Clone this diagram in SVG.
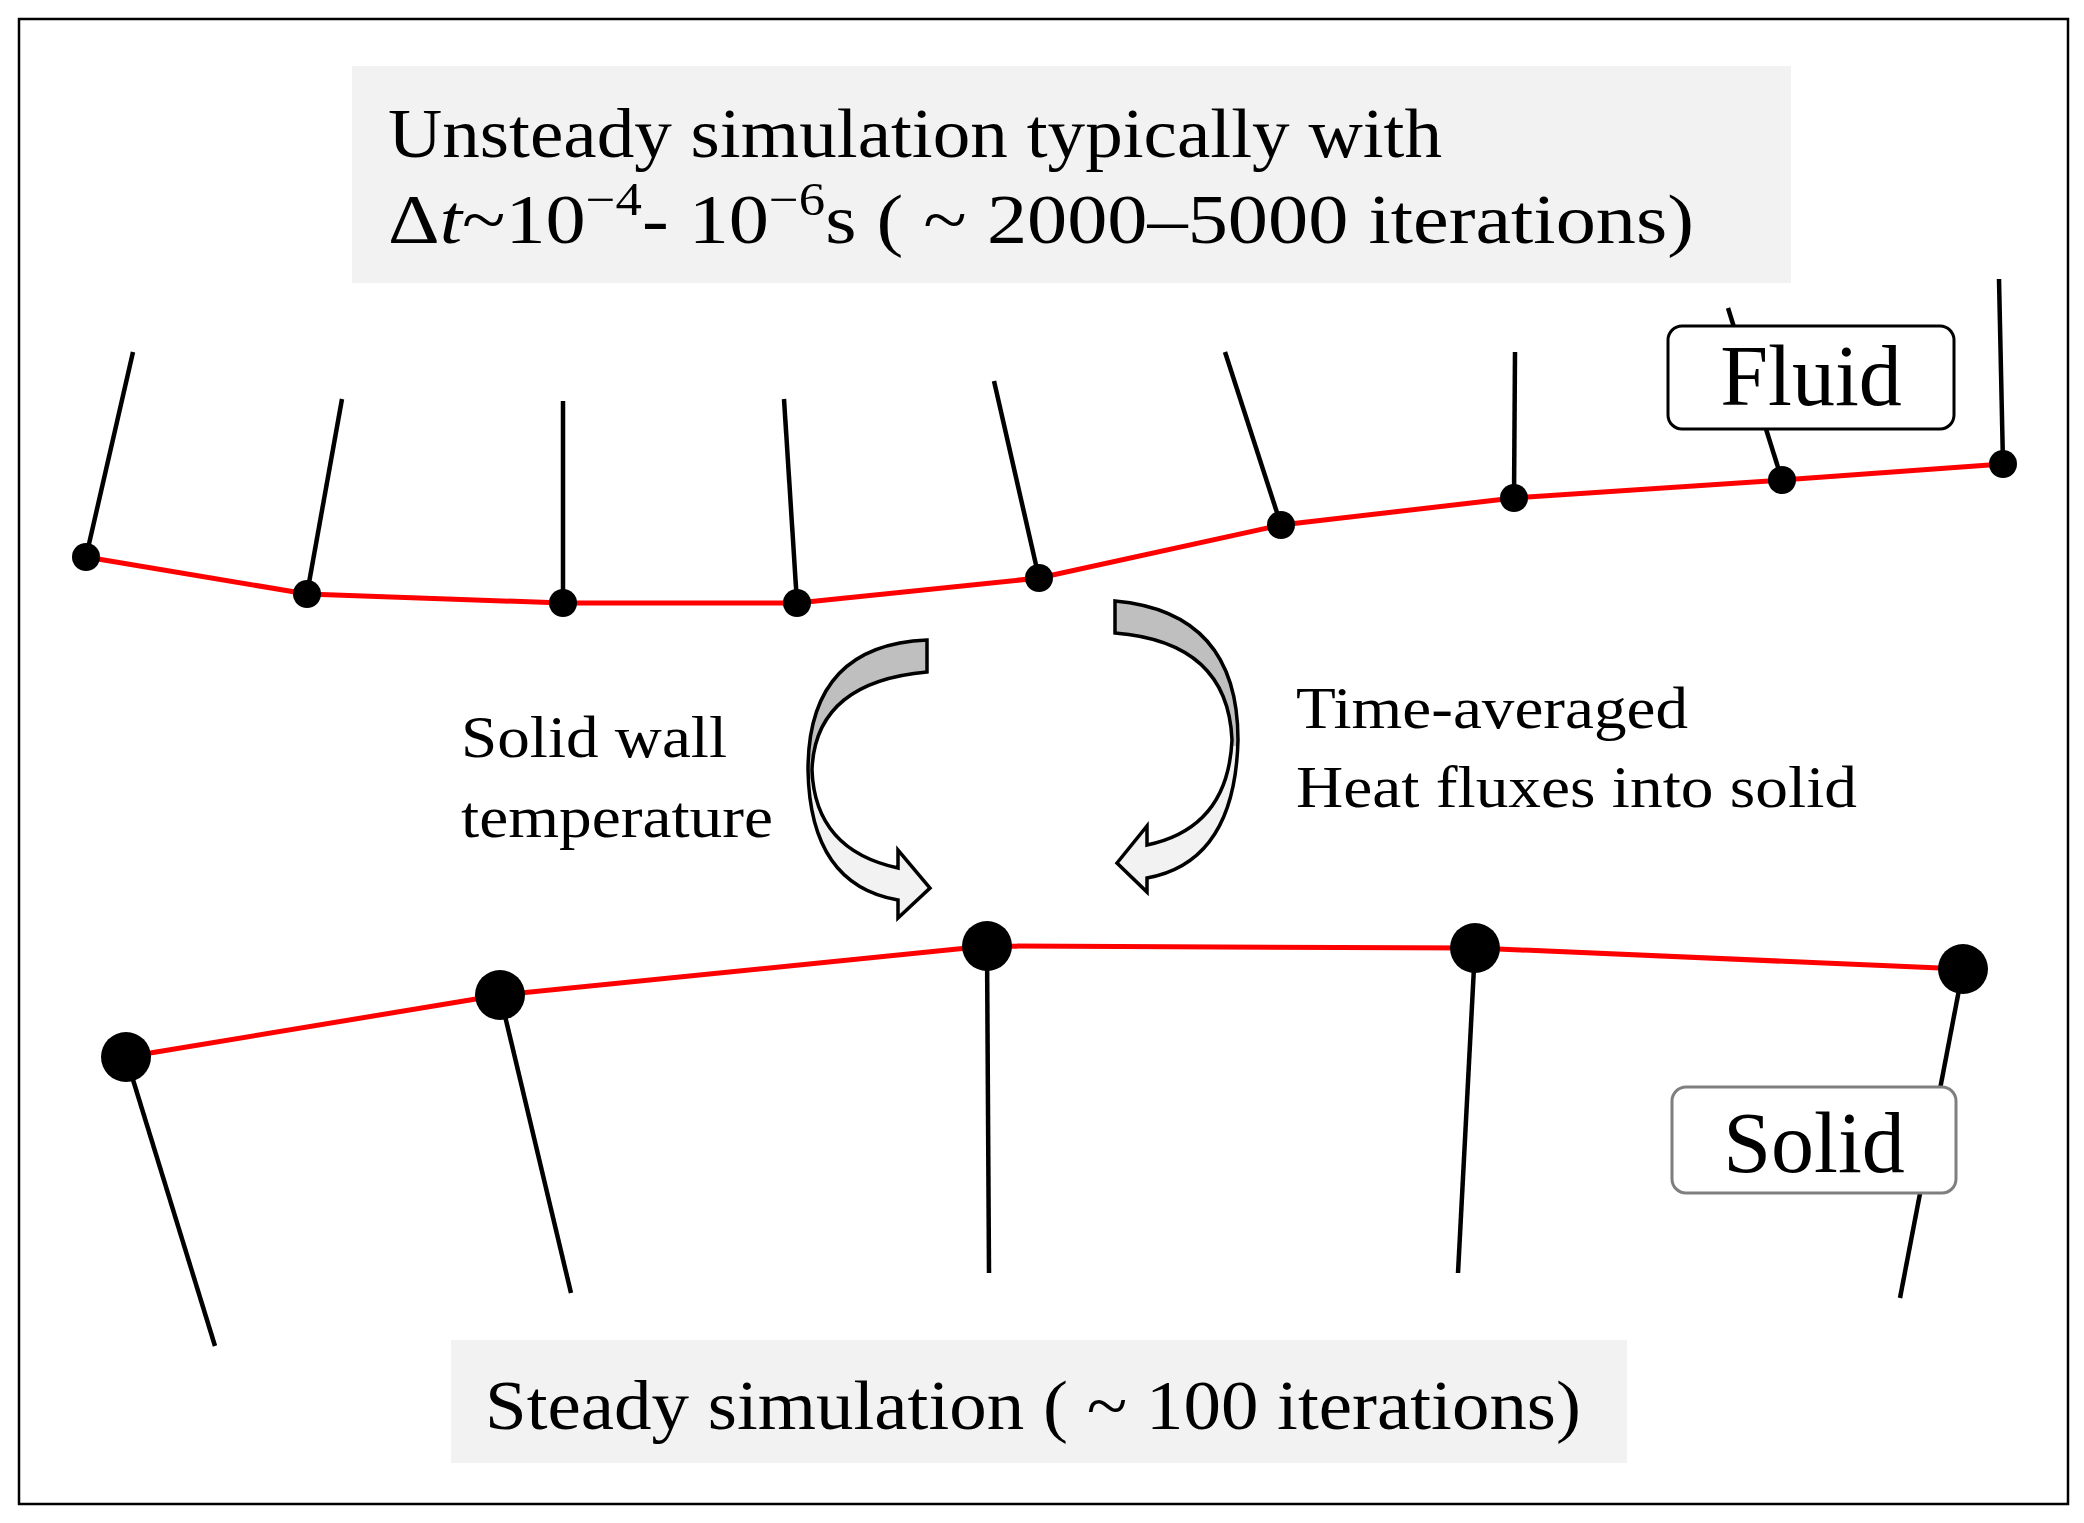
<svg xmlns="http://www.w3.org/2000/svg" width="2084" height="1523" viewBox="0 0 2084 1523">
<style>
.t{font-family:"Liberation Serif","Times New Roman",serif;fill:#000}
.stem{stroke:#000;stroke-width:4.5}
.red{fill:none;stroke:#ff0000;stroke-width:5}
.arr{stroke:#000;stroke-width:3.5}
</style>
<defs>
<linearGradient id="g" x1="0" y1="0" x2="0" y2="1">
<stop offset="0.5" stop-color="#bfbfbf"/><stop offset="0.5" stop-color="#f2f2f2"/>
</linearGradient>
</defs>
<rect x="0" y="0" width="2084" height="1523" fill="#fff"/>
<rect x="19" y="19" width="2049" height="1485" fill="none" stroke="#000" stroke-width="2.5"/>
<g id="top-label">
<rect x="352" y="66" width="1439" height="217" fill="#f2f2f2"/>
<text class="t" x="388" y="157" font-size="70" textLength="1054" lengthAdjust="spacingAndGlyphs">Unsteady simulation typically with</text>
<text class="t" x="388" y="243" font-size="70" textLength="1306" lengthAdjust="spacingAndGlyphs">Δ<tspan font-style="italic">t</tspan>~10<tspan font-size="46" dy="-28">−4</tspan><tspan dy="28">- 10</tspan><tspan font-size="46" dy="-28">−6</tspan><tspan dy="28">s ( ~ 2000–5000 iterations)</tspan></text>
</g>
<g id="connectors">
<g id="fluid-mesh">
<polyline class="red" points="86,557 307,594 563,603 797,603 1039,578 1281,525 1514,498 1782,480 2003,464"/>
<line class="stem" x1="86" y1="557" x2="133" y2="352"/>
<line class="stem" x1="307" y1="594" x2="342" y2="399"/>
<line class="stem" x1="563" y1="603" x2="563" y2="401"/>
<line class="stem" x1="797" y1="603" x2="784" y2="399"/>
<line class="stem" x1="1039" y1="578" x2="994" y2="381"/>
<line class="stem" x1="1281" y1="525" x2="1225" y2="352"/>
<line class="stem" x1="1514" y1="498" x2="1515" y2="352"/>
<line class="stem" x1="1782" y1="480" x2="1728" y2="308"/>
<line class="stem" x1="2003" y1="464" x2="1999" y2="279"/>
<g fill="#000">
<circle cx="86" cy="557" r="14"/><circle cx="307" cy="594" r="14"/><circle cx="563" cy="603" r="14"/><circle cx="797" cy="603" r="14"/><circle cx="1039" cy="578" r="14"/><circle cx="1281" cy="525" r="14"/><circle cx="1514" cy="498" r="14"/><circle cx="1782" cy="480" r="14"/><circle cx="2003" cy="464" r="14"/>
</g>
</g>
<g id="solid-mesh">
<polyline class="red" points="126,1057 500,995 987,946 1475,948 1963,969"/>
<line class="stem" x1="126" y1="1057" x2="215" y2="1346"/>
<line class="stem" x1="500" y1="995" x2="571" y2="1293"/>
<line class="stem" x1="987" y1="946" x2="989" y2="1273"/>
<line class="stem" x1="1475" y1="948" x2="1458" y2="1273"/>
<line class="stem" x1="1963" y1="969" x2="1900" y2="1298"/>
<g fill="#000">
<circle cx="126" cy="1057" r="25"/><circle cx="500" cy="995" r="25"/><circle cx="987" cy="946" r="25"/><circle cx="1475" cy="948" r="25"/><circle cx="1963" cy="969" r="25"/>
</g>
</g>
<path class="arr" fill="url(#g)" d="M927,640 Q808,645 808,770 Q810,885 898,900 L898,918 L930,888 L898,850 L898,868 Q815,850 812,770 Q815,682 927,672 Z"/>
<path class="arr" fill="url(#g)" d="M1115,601 Q1238,612 1238,740 Q1235,862 1147,878 L1147,892 L1117,863 L1147,826 L1147,845 Q1228,828 1232,740 Q1228,642 1115,633 Z"/>
</g>
<g id="fluid">
<rect x="1668" y="326" width="286" height="103" rx="14" fill="#fff" stroke="#000" stroke-width="3"/>
<text class="t" x="1811" y="405" font-size="86" text-anchor="middle">Fluid</text>
</g>
<g id="solid">
<rect x="1672" y="1087" width="284" height="106" rx="14" fill="#fff" stroke="#7f7f7f" stroke-width="3"/>
<text class="t" x="1814" y="1172" font-size="86" text-anchor="middle">Solid</text>
</g>
<g id="wall-temp-label">
<text class="t" x="461" y="757" font-size="60" textLength="266" lengthAdjust="spacingAndGlyphs">Solid wall</text>
<text class="t" x="461" y="837" font-size="60" textLength="312" lengthAdjust="spacingAndGlyphs">temperature</text>
</g>
<g id="heat-flux-label">
<text class="t" x="1296" y="728" font-size="60" textLength="392" lengthAdjust="spacingAndGlyphs">Time-averaged</text>
<text class="t" x="1296" y="807" font-size="60" textLength="561" lengthAdjust="spacingAndGlyphs">Heat fluxes into solid</text>
</g>
<g id="bottom-label">
<rect x="451" y="1340" width="1176" height="123" fill="#f2f2f2"/>
<text class="t" x="485" y="1429" font-size="70" textLength="1096" lengthAdjust="spacingAndGlyphs">Steady simulation ( ~ 100 iterations)</text>
</g>
</svg>
